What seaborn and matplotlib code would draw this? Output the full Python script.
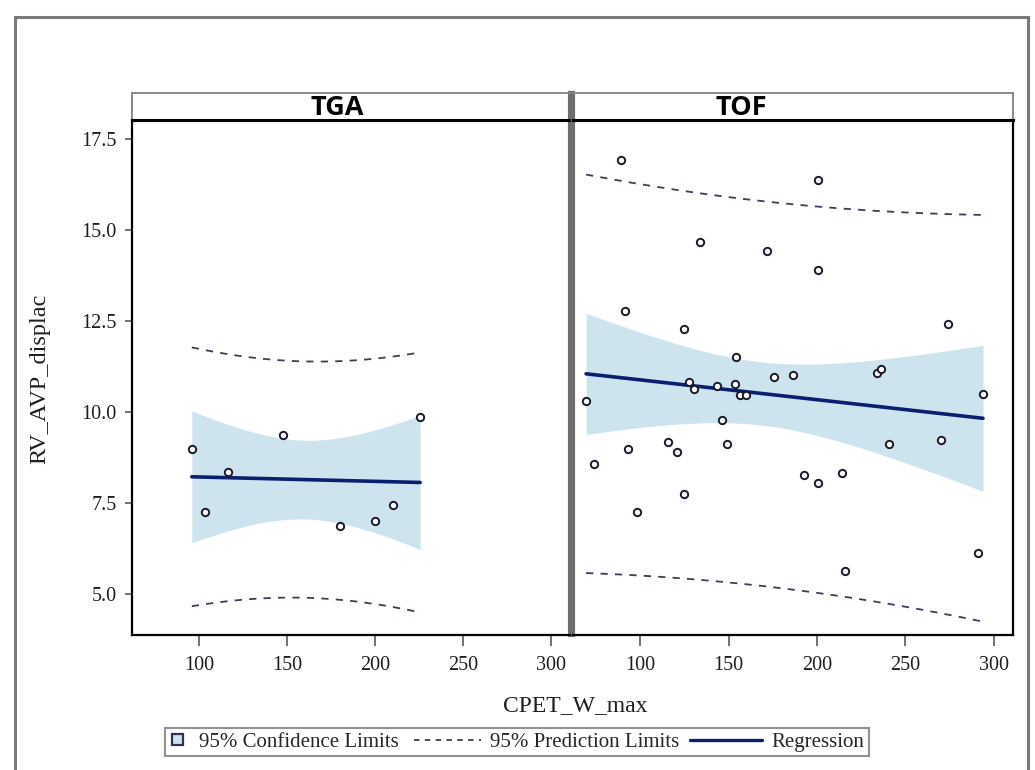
import numpy as np
import pandas as pd
import matplotlib
matplotlib.use("Agg")
import matplotlib.pyplot as plt
import seaborn as sns
from matplotlib.patches import Rectangle, Patch
from matplotlib.lines import Line2D
from matplotlib.legend_handler import HandlerPatch, HandlerLine2D
from math import lgamma, exp, sqrt, pi

# ---------------- data ----------------
panels = ["TGA", "TOF"]

tga_w = [96.0, 103.4, 116.4, 147.6, 180.5, 200.3, 210.5, 225.8]
tga_rv = [8.98, 7.25, 8.35, 9.37, 6.87, 7.00, 7.44, 9.86]

tof_w = [89.2, 200.6, 133.8, 171.7, 200.6, 91.3, 124.7, 274.0, 154.5, 175.5,
         186.5, 234.2, 236.1, 127.4, 153.6, 143.5, 130.2, 156.6, 160.0, 69.4,
         294.0, 146.4, 115.5, 149.1, 93.0, 120.8, 240.6, 270.4, 73.8, 192.7,
         200.8, 214.5, 124.7, 98.5, 291.4, 216.1]
tof_rv = [16.93, 16.37, 14.68, 14.42, 13.90, 12.76, 12.27, 12.41, 11.52, 10.96,
          11.00, 11.08, 11.17, 10.82, 10.78, 10.70, 10.62, 10.47, 10.47, 10.29,
          10.48, 9.77, 9.16, 9.11, 8.98, 8.89, 9.11, 9.24, 8.58, 8.27,
          8.05, 8.32, 7.74, 7.25, 6.12, 5.63]

x_ticks = [100, 150, 200, 250, 300]
y_ticks = [5.0, 7.5, 10.0, 12.5, 15.0, 17.5]

df = pd.DataFrame({
    "CPET_W_max": tga_w + tof_w,
    "RV_AVP_displac": tga_rv + tof_rv,
    "group": ["TGA"] * len(tga_w) + ["TOF"] * len(tof_w),
})

# ---------------- helpers ----------------
def t975(dof):
    xs = np.linspace(0, 12, 240001)
    c = exp(lgamma((dof + 1) / 2) - lgamma(dof / 2)) / sqrt(dof * pi)
    pdf = c * (1 + xs ** 2 / dof) ** (-(dof + 1) / 2)
    cdf = 0.5 + np.concatenate([[0], np.cumsum((pdf[1:] + pdf[:-1]) / 2 * np.diff(xs))])
    return float(np.interp(0.975, cdf, xs))

def fit(x, y):
    x = np.asarray(x, float); y = np.asarray(y, float)
    n = len(x)
    b1, b0 = np.polyfit(x, y, 1)
    xs = np.linspace(x.min(), x.max(), 200)
    yh = b0 + b1 * xs
    resid = y - (b0 + b1 * x)
    s = np.sqrt(np.sum(resid ** 2) / (n - 2))
    sxx = np.sum((x - x.mean()) ** 2)
    t = t975(n - 2)
    se_m = s * np.sqrt(1 / n + (xs - x.mean()) ** 2 / sxx)
    se_p = s * np.sqrt(1 + 1 / n + (xs - x.mean()) ** 2 / sxx)
    return pd.DataFrame({"x": xs, "fit": yh,
                         "clm_lo": yh - t * se_m, "clm_hi": yh + t * se_m,
                         "pi_lo": yh - t * se_p, "pi_hi": yh + t * se_p})

# ---------------- style ----------------
sns.set_theme(style="white")
plt.rcParams["font.family"] = ["Liberation Serif", "DejaVu Serif"]

CI_COL = "#cde3ee"
REG_COL = "#0b1f70"
PI_COL = "#3a4058"
TXT = "#1e1e1e"
W, H = 1035, 770

fig = plt.figure(figsize=(W / 100, H / 100), dpi=100)
fig.patch.set_facecolor("white")

# outer frame
fig.patches.append(Rectangle((15 / W, -0.05), (1028 - 15) / W, 1.05 - 17 / H,
                             transform=fig.transFigure, fill=False,
                             edgecolor="#7a7a7a", linewidth=2.2, zorder=0))

ax_specs = {"TGA": (132, 570), "TOF": (573, 1013)}
top_px, bot_px, strip_top = 120, 635, 93
label_x = {"TGA": 337, "TOF": 741}

for g in panels:
    x0, x1 = ax_specs[g]
    ax = fig.add_axes([x0 / W, 1 - bot_px / H, (x1 - x0) / W, (bot_px - top_px) / H])
    sub = df[df.group == g]
    f = fit(sub["CPET_W_max"], sub["RV_AVP_displac"])
    ax.fill_between(f["x"], f["clm_lo"], f["clm_hi"], color=CI_COL, lw=0, zorder=1)
    sns.lineplot(data=f, x="x", y="pi_lo", ax=ax, color=PI_COL, lw=1.3, zorder=2)
    ax.lines[-1].set_dashes([4, 4])
    sns.lineplot(data=f, x="x", y="pi_hi", ax=ax, color=PI_COL, lw=1.3, zorder=2)
    ax.lines[-1].set_dashes([4, 4])
    sns.lineplot(data=f, x="x", y="fit", ax=ax, color=REG_COL, lw=2.6, zorder=3)
    sns.scatterplot(data=sub, x="CPET_W_max", y="RV_AVP_displac", ax=ax,
                    marker="o", s=28, facecolor="white", edgecolor="#1a1a2a",
                    linewidth=1.4, zorder=4)
    ax.set_xlim(62, 311)
    ax.set_ylim(3.87, 18.02)
    ax.set_xticks(x_ticks)
    ax.set_xticklabels([str(v) for v in x_ticks])
    ax.set_xlabel(""); ax.set_ylabel("")
    ax.tick_params(axis="x", bottom=True, length=8, width=1.3, color="#666666",
                   labelsize=14.5, labelcolor=TXT, pad=7)
    for sp in ax.spines.values():
        sp.set_color("black"); sp.set_linewidth(1.6)
    ax.spines["top"].set_linewidth(2.2)
    ax.set_yticks(y_ticks)
    if g == "TGA":
        ax.set_yticklabels([f"{v:.1f}" for v in y_ticks])
        ax.tick_params(axis="y", left=True, length=5, width=1.3, color="#666666",
                       labelsize=14.5, labelcolor=TXT, pad=6)
        ax.spines["right"].set_color("#6e6e6e"); ax.spines["right"].set_linewidth(3)
    else:
        ax.tick_params(axis="y", left=False, labelleft=False)
        ax.spines["left"].set_color("#6e6e6e"); ax.spines["left"].set_linewidth(3)

    # header strip
    sax = fig.add_axes([x0 / W, 1 - top_px / H, (x1 - x0) / W, (top_px - strip_top) / H])
    sax.set_xticks([]); sax.set_yticks([])
    sax.set_facecolor("white")
    for sp in sax.spines.values():
        sp.set_color("#8a8a8a"); sp.set_linewidth(1.4)
    sax.spines["bottom"].set_color("black"); sax.spines["bottom"].set_linewidth(2.2)
    if g == "TGA":
        sax.spines["right"].set_color("#6e6e6e"); sax.spines["right"].set_linewidth(3)
    else:
        sax.spines["left"].set_color("#6e6e6e"); sax.spines["left"].set_linewidth(3)
    sax.text((label_x[g] - x0) / (x1 - x0), 0.45, g, transform=sax.transAxes,
             ha="center", va="center", fontsize=19.5, fontweight="bold",
             family=["Open Sans", "DejaVu Sans"], color="black")

fig.text(575 / W, 1 - 706 / H, "CPET_W_max", ha="center", va="center",
         fontsize=17, color=TXT)
fig.text(40 / W, 1 - 379 / H, "RV_AVP_displac", ha="center", va="center",
         rotation=90, fontsize=17.5, color=TXT)


class SquareHandler(HandlerPatch):
    def create_artists(self, legend, orig_handle, xdescent, ydescent, width,
                       height, fontsize, trans):
        s = 7.5
        p = Rectangle((-xdescent + width - s - 5, -ydescent + (height - s) / 2), s, s,
                      facecolor=CI_COL, edgecolor="#2e3550", linewidth=1.6,
                      transform=trans)
        return [p]


class LeftLine(HandlerLine2D):
    def __init__(self, length_pt, **kw):
        super().__init__(**kw)
        self.length_pt = length_pt

    def create_artists(self, legend, orig_handle, xdescent, ydescent, width,
                       height, fontsize, trans):
        y = height / 2 - ydescent
        xe = width - xdescent
        ln = Line2D([xe - self.length_pt, xe], [y, y], color=orig_handle.get_color(),
                    linewidth=orig_handle.get_linewidth(), transform=trans)
        if orig_handle.get_linestyle() not in ("-", "solid"):
            ln.set_dashes([3, 3])
        return [ln]


h_ci = Patch(facecolor=CI_COL, edgecolor="#2e3550", label="95% Confidence Limits")
h_pi = Line2D([0], [0], color=PI_COL, lw=1.3, linestyle="--", label="95% Prediction Limits")
h_rg = Line2D([0], [0], color=REG_COL, lw=2.4, label="Regression")
leg = fig.legend(handles=[h_ci, h_pi, h_rg], loc="center",
                 bbox_to_anchor=(517 / W, 1 - 742 / H),
                 ncol=3, frameon=True, fontsize=15, handlelength=0.95,
                 handleheight=0.7, columnspacing=3.0, handletextpad=0.45,
                 borderpad=0.22, borderaxespad=0, fancybox=False,
                 handler_map={h_ci: SquareHandler(), h_pi: LeftLine(48.0),
                              h_rg: LeftLine(52.0)})
leg.get_frame().set_edgecolor("#777777")
leg.get_frame().set_linewidth(1.5)

fig.savefig("out.png", dpi=100, facecolor="white")
